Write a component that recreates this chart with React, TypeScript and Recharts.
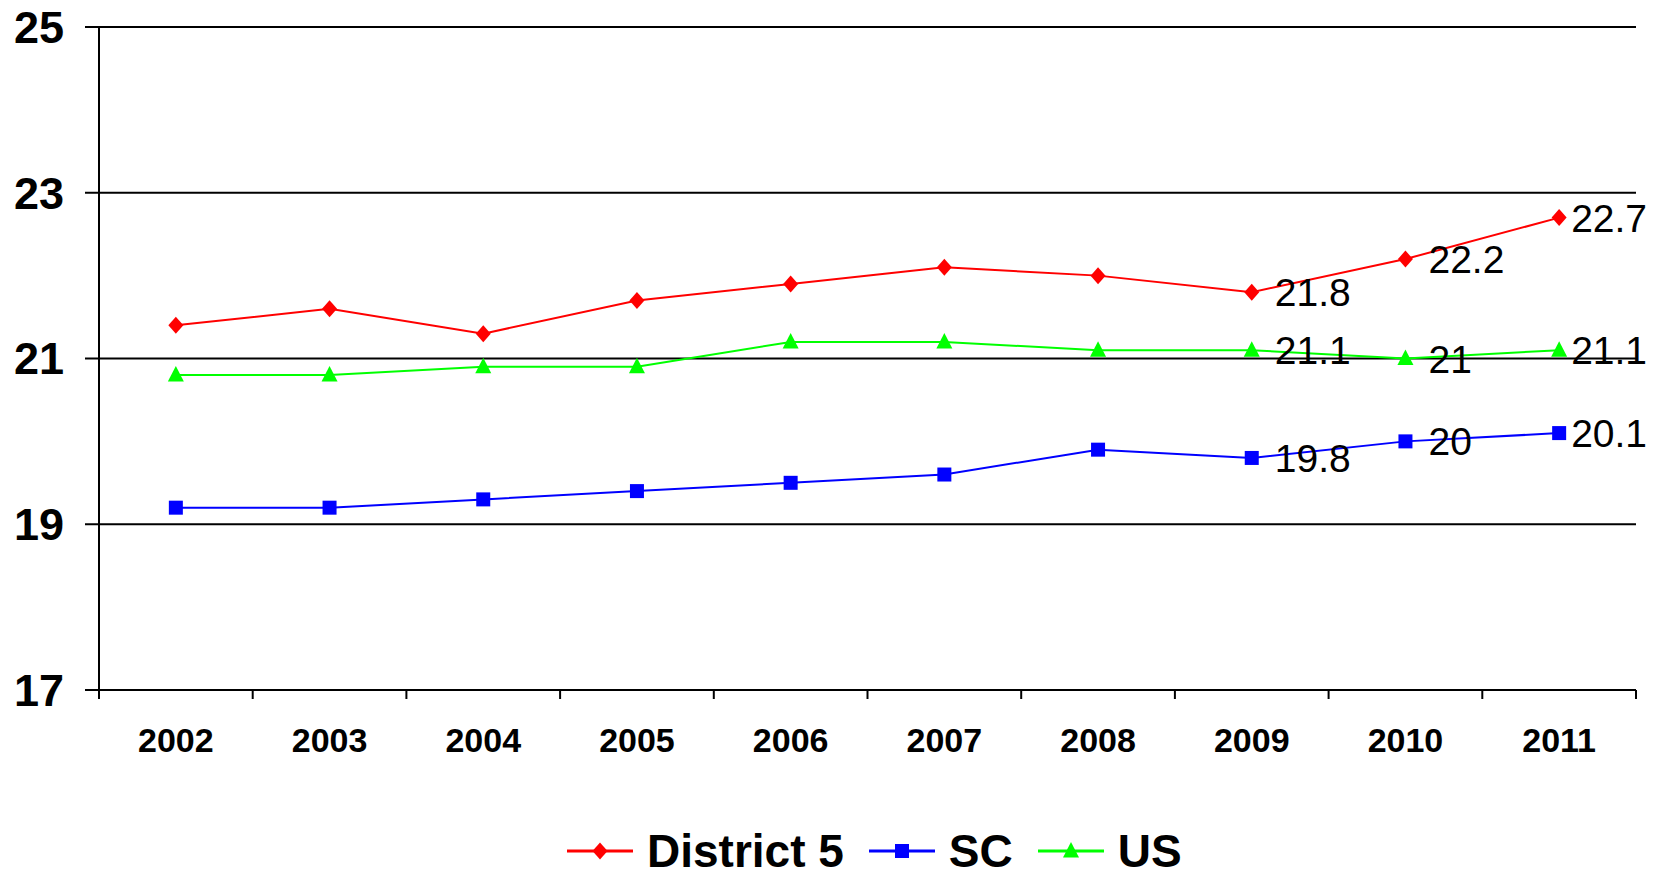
import { LineChart, Line, XAxis, YAxis, CartesianGrid, Legend, LabelList } from "recharts";

const YEARS = ["2002", "2003", "2004", "2005", "2006", "2007", "2008", "2009", "2010", "2011"];
const DISTRICT_5 = [21.4, 21.6, 21.3, 21.7, 21.9, 22.1, 22.0, 21.8, 22.2, 22.7];
const SC = [19.2, 19.2, 19.3, 19.4, 19.5, 19.6, 19.9, 19.8, 20.0, 20.1];
const US = [20.8, 20.8, 20.9, 20.9, 21.2, 21.2, 21.1, 21.1, 21.0, 21.1];
const Y_TICKS = [17, 19, 21, 23, 25];
const LABELED_YEARS = ["2009", "2010", "2011"];

const SERIES = [
  { key: "district5", name: "District 5", color: "#FF0000", shape: "diamond" },
  { key: "sc", name: "SC", color: "#0000FF", shape: "square" },
  { key: "us", name: "US", color: "#00FF00", shape: "triangle" },
];

const data = YEARS.map((year, i) => ({
  year,
  district5: DISTRICT_5[i],
  sc: SC[i],
  us: US[i],
}));

const FONT = "'Liberation Sans', Arial, Helvetica, sans-serif";

function Marker({ shape, cx, cy, color }: { shape: string; cx: number; cy: number; color: string }) {
  if (cx == null || cy == null) return null;
  if (shape === "diamond") {
    return <path d={`M${cx},${cy - 8.5} L${cx + 7.5},${cy} L${cx},${cy + 8.5} L${cx - 7.5},${cy} Z`} fill={color} />;
  }
  if (shape === "square") {
    return <rect x={cx - 7} y={cy - 7} width={14} height={14} fill={color} />;
  }
  return <path d={`M${cx},${cy - 9} L${cx + 8},${cy + 6.5} L${cx - 8},${cy + 6.5} Z`} fill={color} />;
}

function makeDot(shape: string, color: string) {
  return (props: any) => <Marker key={props.index} shape={shape} cx={props.cx} cy={props.cy} color={color} />;
}

function ValueLabel(props: any) {
  const { x, y, value, index } = props;
  if (!LABELED_YEARS.includes(YEARS[index])) return null;
  const dx = index === YEARS.length - 1 ? 12 : 23;
  return (
    <text x={x + dx} y={y + 14} fill="#000" fontFamily={FONT} fontSize={39} textAnchor="start">
      {value}
    </text>
  );
}

function YearTick(props: any) {
  const { x, y, payload, index } = props;
  const bw = (props.width || 1537) / YEARS.length;
  const last = index === YEARS.length - 1;
  return (
    <g>
      <line x1={x - bw / 2} y1={y - 9} x2={x - bw / 2} y2={y} stroke="#000" strokeWidth={2} />
      {last && <line x1={x + bw / 2} y1={y - 9} x2={x + bw / 2} y2={y} stroke="#000" strokeWidth={2} />}
      <text x={x} y={y + 53} textAnchor="middle" fontFamily={FONT} fontWeight="bold" fontSize={34} fill="#000">
        {payload.value}
      </text>
    </g>
  );
}

function ChartLegend() {
  return (
    <div style={{ display: "flex", alignItems: "center", height: 46, whiteSpace: "nowrap" }}>
      {SERIES.map((s) => (
        <div key={s.key} style={{ display: "flex", alignItems: "center", marginRight: 25 }}>
          <svg width={66} height={24} style={{ display: "block" }}>
            <line x1={0} y1={12} x2={66} y2={12} stroke={s.color} strokeWidth={3} />
            <Marker shape={s.shape} cx={33} cy={12} color={s.color} />
          </svg>
          <span
            style={{
              marginLeft: 14,
              fontFamily: FONT,
              fontWeight: "bold",
              fontSize: 46,
              lineHeight: "46px",
              color: "#000",
            }}
          >
            {s.name}
          </span>
        </div>
      ))}
    </div>
  );
}

export default function App() {
  return (
    <div style={{ position: "absolute", left: 0, top: 0, background: "#fff" }}>
      <LineChart width={1663} height={874} data={data} margin={{ top: 27, right: 27, left: 0, bottom: 0 }}>
        <CartesianGrid vertical={false} stroke="#000" strokeWidth={2} strokeOpacity={1} />
        <XAxis
          dataKey="year"
          scale="band"
          height={138}
          axisLine={{ stroke: "#000", strokeWidth: 2 }}
          tickLine={false}
          tickSize={9}
          tickMargin={0}
          tick={<YearTick />}
          interval={0}
        />
        <YAxis
          domain={[17, 25]}
          ticks={Y_TICKS}
          width={99}
          axisLine={{ stroke: "#000", strokeWidth: 2 }}
          tickLine={{ stroke: "#000", strokeWidth: 2 }}
          tickSize={14}
          tickMargin={21}
          tick={{ fill: "#000", fontFamily: FONT, fontWeight: "bold", fontSize: 45 }}
        />
        <Legend
          verticalAlign="bottom"
          content={<ChartLegend />}
          wrapperStyle={{ left: 567, width: 640 }}
        />
        {SERIES.map((s) => (
          <Line
            key={s.key}
            dataKey={s.key}
            name={s.name}
            stroke={s.color}
            strokeWidth={2}
            dot={makeDot(s.shape, s.color)}
            activeDot={false}
            isAnimationActive={false}
          >
            <LabelList dataKey={s.key} content={<ValueLabel />} />
          </Line>
        ))}
      </LineChart>
    </div>
  );
}
